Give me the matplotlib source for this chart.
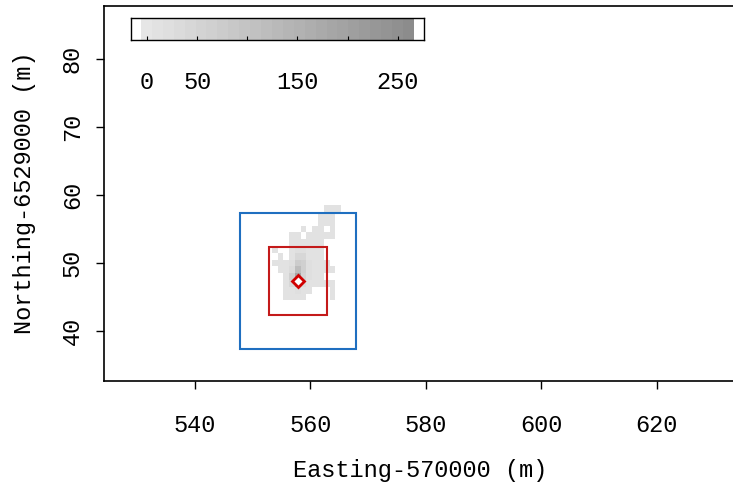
import matplotlib
matplotlib.use("Agg")
import matplotlib.pyplot as plt
import numpy as np
from matplotlib.colors import LinearSegmentedColormap, BoundaryNorm
from matplotlib.patches import Rectangle

plt.rcParams['font.family'] = ['Liberation Mono', 'DejaVu Sans Mono']
plt.rcParams['font.size'] = 17

# counts per 1 m cell, rows from north (y=58) to south (y=45), columns eastward
counts = [
    [0, 0, 0, 0, 0, 0, 0, 0, 0, 10, 10, 10, 0],
    [0, 0, 0, 0, 0, 0, 0, 0, 10, 10, 10, 0, 0],
    [0, 0, 0, 0, 0, 0, 0, 0, 10, 10, 10, 0, 0],
    [0, 0, 0, 0, 0, 10, 0, 10, 10, 0, 10, 0, 0],
    [0, 0, 0, 10, 10, 0, 10, 10, 10, 10, 10, 0, 0],
    [0, 0, 0, 10, 15, 15, 10, 10, 10, 0, 0, 0, 0],
    [10, 0, 0, 10, 20, 20, 10, 10, 10, 0, 0, 0, 0],
    [0, 10, 0, 10, 40, 40, 15, 10, 10, 0, 0, 0, 0],
    [10, 10, 10, 20, 80, 60, 20, 10, 10, 10, 0, 0, 0],
    [0, 10, 10, 30, 120, 70, 20, 10, 10, 10, 10, 0, 0],
    [0, 0, 10, 60, 180, 50, 20, 10, 10, 0, 0, 0, 0],
    [0, 0, 10, 40, 150, 30, 10, 10, 10, 10, 10, 0, 0],
    [0, 0, 10, 10, 20, 10, 10, 0, 0, 0, 10, 0, 0],
    [0, 0, 10, 10, 10, 10, 0, 0, 0, 0, 10, 0, 0],
]
grid_west = 553.3
grid_north = 58.5

center_x, center_y = 557.8, 47.35
inner_half = 5
outer_half = 10

scale_min, scale_max = -6, 266
n_bands = 25
bar_ticks = [0, 50, 100, 150, 200, 250]
bar_labels = ['0', '50', '', '150', '', '250']

cmap = LinearSegmentedColormap.from_list('greys_k', ['#e6e6e6', '#8c8c8c'], N=n_bands)
edges = np.linspace(scale_min, scale_max, n_bands + 1)
norm = BoundaryNorm(edges, cmap.N)

fig = plt.figure(figsize=(7.33, 4.91), dpi=100)
ax = fig.add_axes([104 / 733, 110 / 491, 632 / 733, 375 / 491])

z = np.ma.masked_equal(np.array(counts, dtype=float), 0)
nr, nc = z.shape
xe = grid_west + np.arange(nc + 1)
ye = grid_north - np.arange(nr + 1)
ax.pcolormesh(xe, ye, z, cmap=cmap, norm=norm, shading='flat')

ax.add_patch(Rectangle((center_x - outer_half, center_y - outer_half), 2 * outer_half, 2 * outer_half,
                       fill=False, ec='#1f6fc0', lw=1.5))
ax.add_patch(Rectangle((center_x - inner_half, center_y - inner_half), 2 * inner_half, 2 * inner_half,
                       fill=False, ec='#c41a1a', lw=1.5))
ax.plot([center_x], [center_y], marker='D', ms=6, mfc='white', mec='#d00000', mew=2)

ax.set_xlim(524.24, 633.7)
ax.set_ylim(32.65, 87.79)
ax.set_xticks([540, 560, 580, 600, 620])
ax.set_yticks([40, 50, 60, 70, 80])
ax.spines['right'].set_visible(False)
for s in ax.spines.values():
    s.set_linewidth(1.2)
ax.tick_params(axis='x', length=6, width=1, pad=17.5)
ax.tick_params(axis='y', length=6, width=1, pad=8.5)
for lbl in ax.get_yticklabels():
    lbl.set_rotation(90)
    lbl.set_va('center')

fig.text(420 / 733, 1 - 471 / 491, 'Easting-570000 (m)', ha='center', va='center')
fig.text(25 / 733, 1 - 193 / 491, 'Northing-6529000 (m)', ha='center', va='center', rotation=90)

# scale bar inside the map, placed in data coordinates
cax = ax.inset_axes([528.9, 82.8, 50.75, 3.2], transform=ax.transData)
cax.set_xlim(-16, 276)
cax.set_ylim(0, 1)
bands = np.linspace(scale_min, scale_max, n_bands + 1)
cax.pcolormesh(bands, [0, 1], ((bands[:-1] + bands[1:]) / 2)[None, :], cmap=cmap, norm=norm)
cax.set_yticks([])
cax.set_xticks(bar_ticks)
cax.set_xticklabels(bar_labels)
cax.tick_params(axis='x', direction='in', length=3, pad=22.5)
for s in cax.spines.values():
    s.set_linewidth(1)

fig.savefig('out.png', dpi=100)
